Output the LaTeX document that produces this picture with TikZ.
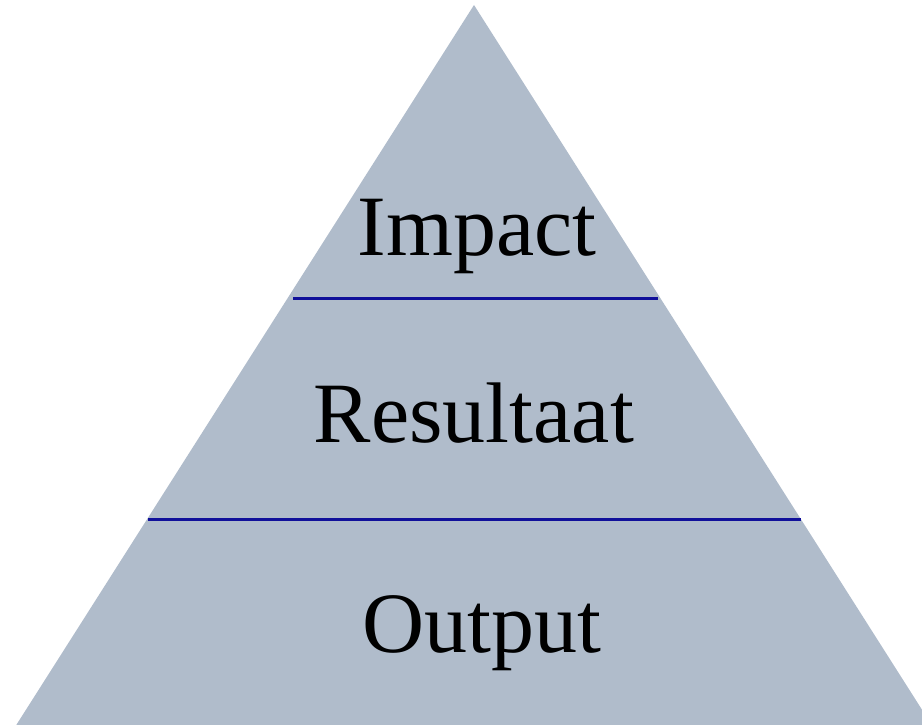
\documentclass[tikz,border=0pt]{standalone}
\usepackage{fontspec}
\setmainfont{Liberation Serif}
\definecolor{pyrfill}{HTML}{B0BCCB}
\definecolor{sepline}{HTML}{10109A}
\tikzset{
  lvl/.style={anchor=base, inner sep=0pt, font=\fontsize{86}{90}\selectfont},
  sep/.style={draw=sepline, line width=2.2pt}
}
\begin{document}
\begin{tikzpicture}[x=1pt,y=-1pt]
\useasboundingbox (0,0) rectangle (922,725);
\clip (0,0) rectangle (922,725);
\fill[pyrfill] (474,5) -- (15,727) -- (933,727) -- cycle;
\coordinate (l1a) at (293,298.5);
\coordinate (l1b) at (658,298.5);
\coordinate (l2a) at (148,519.5);
\coordinate (l2b) at (801,519.5);
\draw[sep] (l1a) -- (l1b);
\draw[sep] (l2a) -- (l2b);
\node[lvl] (impact) at (477,255) {Impact};
\node[lvl] (result) at (474,442) {Resultaat};
\node[lvl] (output) at (482,652) {Output};
\end{tikzpicture}
\end{document}
